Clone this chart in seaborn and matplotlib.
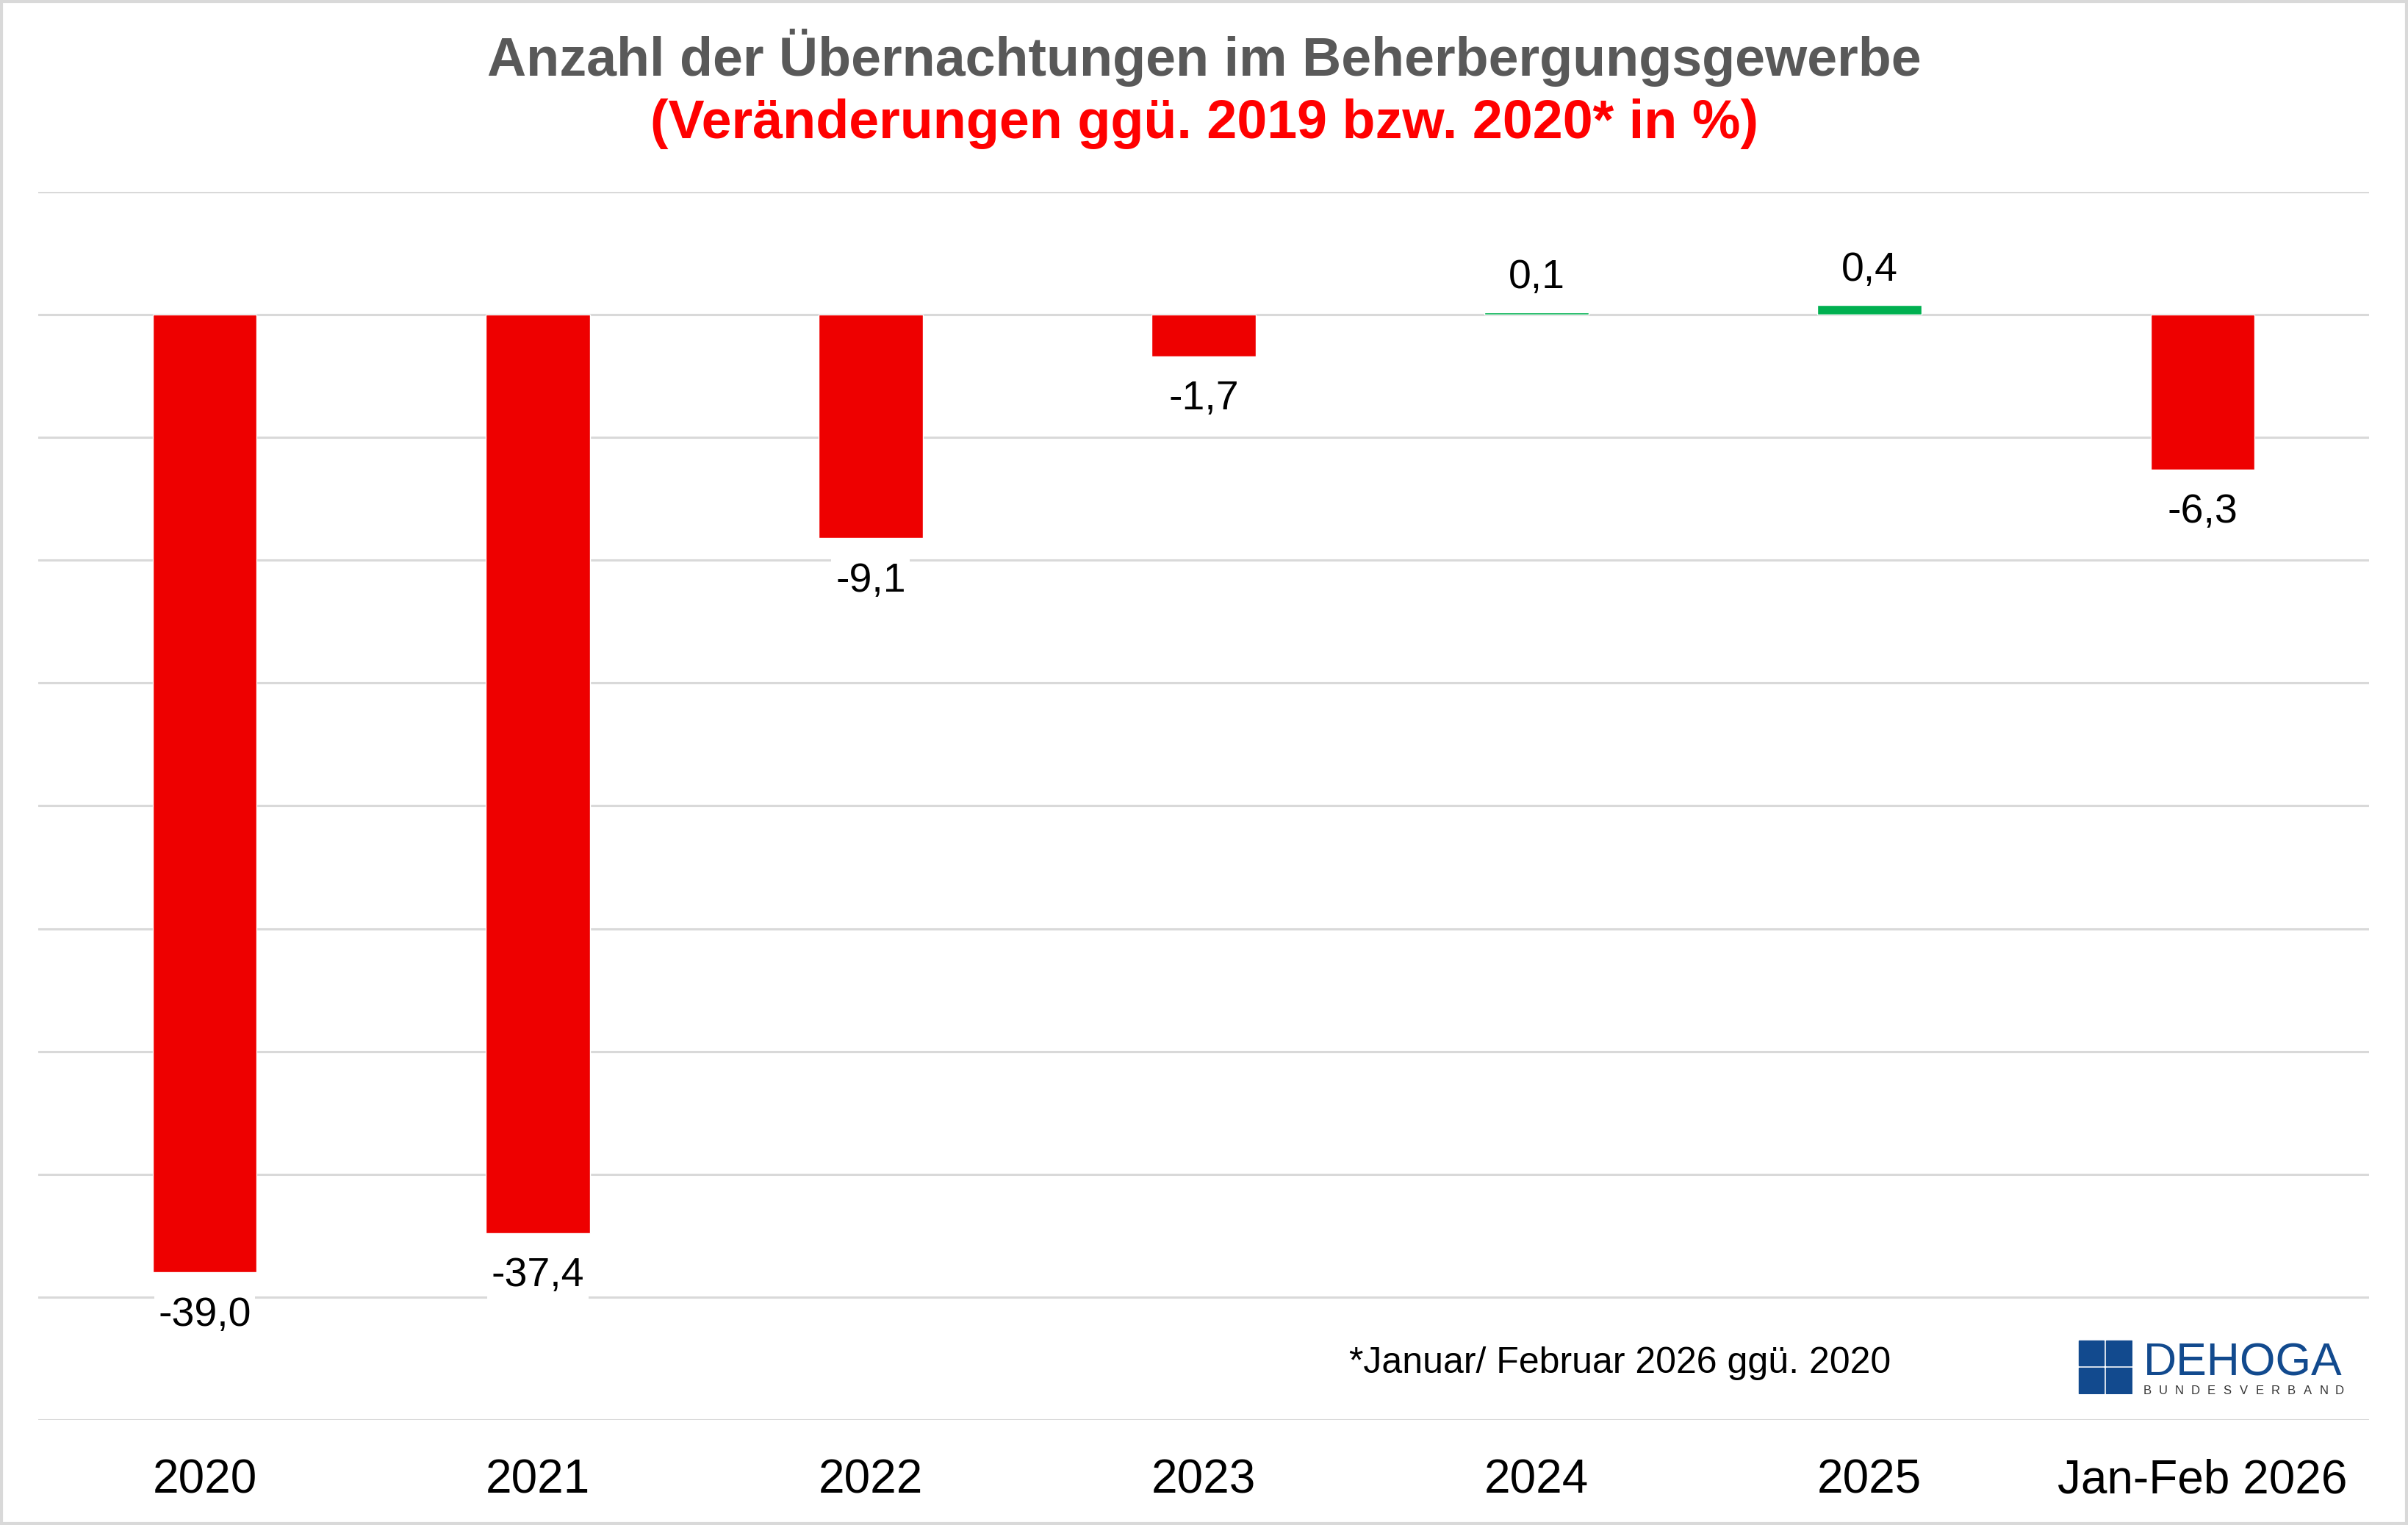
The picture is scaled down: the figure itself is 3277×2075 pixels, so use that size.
import numpy as np
import matplotlib.pyplot as plt
from matplotlib.patches import Rectangle
import seaborn as sns

# data
categories = ['2020', '2021', '2022', '2023', '2024', '2025', 'Jan-Feb 2026']
changes = [-39.0, -37.4, -9.1, -1.7, 0.1, 0.4, -6.3]
bar_colors = ['#EE0000' if v < 0 else '#00B050' for v in changes]

title_1 = 'Anzahl der Übernachtungen im Beherbergungsgewerbe'
title_2 = '(Veränderungen ggü. 2019 bzw. 2020* in %)'
footnote = '*Januar/ Februar 2026 ggü. 2020'

sns.set_style('white')
plt.rcParams['font.family'] = ['Liberation Sans', 'DejaVu Sans']

W, H = 3277, 2075
fig = plt.figure(figsize=(W / 100, H / 100), dpi=100)
fig.patch.set_facecolor('white')

ax = fig.add_axes([52 / W, 1 - 1932 / H, (3224 - 52) / W, (1932 - 261) / H])
sns.barplot(x=categories, y=changes, hue=categories, palette=bar_colors,
            saturation=1, width=0.313, legend=False, ax=ax)

ax.set_xlim(-0.5, len(categories) - 0.5)
ax.set_ylim(-45, 5)
ax.set_yticks(np.arange(-45, 6, 5))
ax.set_yticklabels([])
ax.yaxis.grid(True, color='#D9D9D9', linewidth=2.2)
ax.set_axisbelow(True)
ax.tick_params(axis='y', length=0)
ax.tick_params(axis='x', length=0, pad=38, labelsize=46, labelcolor='black')
ax.set_xlabel('')
ax.set_ylabel('')
for s in ax.spines.values():
    s.set_visible(False)

# value labels, German decimal comma
for i, v in enumerate(changes):
    off = 34 if v >= 0 else -42
    ax.annotate(f'{v:.1f}'.replace('.', ','), (i, v), xytext=(0, off),
                textcoords='offset points', ha='center', va='center',
                fontsize=40, color='black', zorder=5,
                bbox=dict(facecolor='white', edgecolor='none', pad=4))

# titles
fig.text(0.5, 1 - 103 / H, title_1, ha='center', va='baseline',
         fontsize=53, fontweight='bold', color='#595959')
fig.text(0.5, 1 - 188 / H, title_2, ha='center', va='baseline',
         fontsize=53, fontweight='bold', color='#FF0000')

fig.text(1836 / W, 1 - 1868 / H, footnote, ha='left', va='baseline',
         fontsize=36, color='black')

# DEHOGA logo (simplified)
blue = '#124A8E'
lax = fig.add_axes([2827 / W, 1 - 1897 / H, 75 / W, 75 / H])
lax.set_xlim(0, 2)
lax.set_ylim(0, 2)
for cx in (0, 1):
    for cy in (0, 1):
        lax.add_patch(Rectangle((cx + 0.04, cy + 0.04), 0.92, 0.92, color=blue))
lax.axis('off')
fig.text(2917 / W, 1 - 1871 / H, 'DEHOGA', ha='left', va='baseline',
         fontsize=45, color=blue)
letters = 'BUNDESVERBAND'
xs = np.linspace(2922, 3184, len(letters))
for x, ch in zip(xs, letters):
    fig.text(x / W, 1 - 1897 / H, ch, ha='center', va='baseline',
             fontsize=12, color='#333333')

# light frame round the picture
fig.patches.append(Rectangle((0.0005, 0.0008), 0.999, 0.9984, transform=fig.transFigure,
                             fill=False, edgecolor='#D9D9D9', linewidth=3))

fig.savefig('out.png', dpi=100)
